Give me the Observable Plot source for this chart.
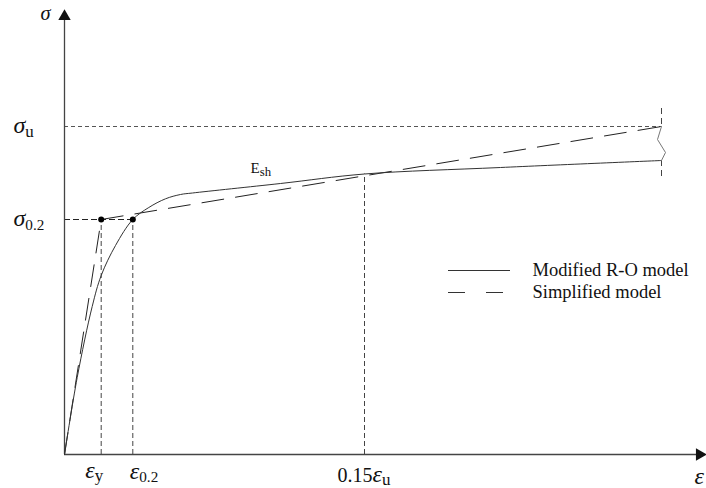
<!DOCTYPE html>
<html><head><meta charset="utf-8">
<script src="https://cdn.jsdelivr.net/npm/d3@7"></script>
<script src="https://cdn.jsdelivr.net/npm/@observablehq/plot@0.6"></script>
<style>body{margin:0;background:#fff}</style>
</head><body><div id="chart"></div>
<script>
// Modified Ramberg-Osgood curve (strain in schematic units, stress in schematic units)
const roStrain = [0, 0.127, 0.277, 0.367, 0.51, 0.683, 0.843, 1.01, 1.16, 1.28, 2.16, 3.0, 4.36, 5.97];
const roStress = [0, 77, 148, 179, 209, 235, 247, 255.7, 260, 261.5, 271, 280.5, 287, 294];
// Simplified (bilinear) model
const simpStrain = [0, 0.367, 5.97];
const simpStress = [0, 235, 328];
// Key values
const epsY = 0.367, eps02 = 0.683, eps15u = 3.0, epsEnd = 5.97;
const sig02 = 235, sigU = 328, sig15u = 280.5;
// Break symbol at the right end
const breakStrain = [5.97, 5.93, 6.01, 5.97];
const breakStress = [328, 315, 302, 294];
// Axis extents
const axisXMax = 6.42, axisYMax = 445;
// Tick labels ("|" separates the subscript)
const xTickLabels = ["ε|y", "ε|0.2", "0.15ε|u"];
const xTickValues = [epsY, eps02, eps15u];
const yTickLabels = ["σ|u", "σ|0.2"];
const yTickValues = [sigU, sig02];
const legendLabels = ["Modified R-O model", "Simplified model"];
const annotation = {text: "E|sh", x: 1.86, y: 282};

const ro = roStrain.map((x, i) => ({x, y: roStress[i]}));
const simp = simpStrain.map((x, i) => ({x, y: simpStress[i]}));
const brk = breakStrain.map((x, i) => ({x, y: breakStress[i]}));
const serif = "Liberation Serif, Times New Roman, serif";
const thin = {stroke: "#555", strokeWidth: 1, strokeDasharray: "4,3"};

const plot = Plot.plot({
  width: 706, height: 488,
  marginLeft: 64, marginRight: 0, marginTop: 9, marginBottom: 34,
  x: {domain: [0, axisXMax], axis: null},
  y: {domain: [0, axisYMax], axis: null},
  style: {fontFamily: serif, background: "#fff"},
  marks: [
    // reference lines
    Plot.ruleY([sigU], {x1: 0, x2: epsEnd, ...thin}),
    Plot.ruleY([sig02], {x1: 0, x2: eps02, stroke: "#222", strokeWidth: 1, strokeDasharray: "6,3"}),
    Plot.ruleX([{x: epsY, y: sig02}, {x: eps02, y: sig02}, {x: eps15u, y: sig15u}],
      {x: "x", y1: 0, y2: "y", stroke: "#444", strokeWidth: 1, strokeDasharray: "5,3"}),
    Plot.ruleX([{y1: 346, y2: sigU}, {y1: 294, y2: 274}],
      {x: epsEnd, y1: "y1", y2: "y2", stroke: "#444", strokeWidth: 1, strokeDasharray: "6,4"}),
    // axes
    Plot.ruleY([0], {x1: 0, x2: axisXMax - 0.08, stroke: "#444", strokeWidth: 1.3}),
    Plot.ruleX([0], {y1: 0, y2: axisYMax - 8, stroke: "#444", strokeWidth: 1.3}),
    Plot.dot([{x: 0, y: axisYMax}], {x: "x", y: "y", symbol: "triangle", r: 4.6, fill: "#111", stroke: null, dy: 7}),
    Plot.dot([{x: axisXMax, y: 0}], {x: "x", y: "y", symbol: "triangle", r: 4.6, fill: "#111", stroke: null, rotate: 90, dx: -7}),
    // curves
    Plot.line(simp, {x: "x", y: "y", stroke: "#222", strokeWidth: 1, strokeDasharray: "22,12"}),
    Plot.line(ro, {x: "x", y: "y", stroke: "#333", strokeWidth: 1, curve: "catmull-rom"}),
    Plot.line(brk, {x: "x", y: "y", stroke: "#777", strokeWidth: 1}),
    Plot.dot([{x: epsY, y: sig02}, {x: eps02, y: sig02}], {x: "x", y: "y", r: 3, fill: "#000", stroke: null}),
    // labels
    Plot.text(yTickValues, {x: 0, y: d => d, text: (d, i) => yTickLabels[i], textAnchor: "start", lineAnchor: "bottom", dx: -51, dy: 6, fontSize: 20, fill: "#111"}),
    Plot.text([{x: 0, y: axisYMax}], {x: "x", y: "y", text: () => "σ", textAnchor: "start", lineAnchor: "bottom", dx: -24, dy: 10, fontSize: 17, fill: "#111"}),
    Plot.text(xTickValues, {x: d => d, y: 0, text: (d, i) => xTickLabels[i], textAnchor: "start", lineAnchor: "bottom", fontSize: 20, fill: "#111"}),
    Plot.text([{x: axisXMax, y: 0}], {x: "x", y: "y", text: () => "ε", textAnchor: "start", lineAnchor: "bottom", dx: -12, dy: 29, fontSize: 20, fill: "#111"}),
    Plot.text([annotation], {x: "x", y: "y", text: "text", textAnchor: "start", lineAnchor: "bottom", fontSize: 15, fill: "#111"}),
    // legend
    Plot.ruleY([184], {x1: 3.84, x2: 4.46, stroke: "#333", strokeWidth: 1}),
    Plot.ruleY([162], {x1: 3.84, x2: 4.46, stroke: "#333", strokeWidth: 1, strokeDasharray: "17,21"}),
    Plot.text([184, 162], {x: 4.68, y: d => d, text: (d, i) => legendLabels[i], textAnchor: "start", fontSize: 18.5, fill: "#111"})
  ]
});

// x tick label offsets (per label)
const xdx = [-16, -3, -27], xdy = [23, 24, 27];
const svg = d3.select(plot);
svg.selectAll("text").each(function () {
  const t = this.textContent;
  const i = xTickLabels.indexOf(t);
  if (i >= 0) {
    const tr = this.getAttribute("transform") || "";
    this.setAttribute("transform", tr + ` translate(${xdx[i]},${xdy[i]})`);
  }
});
// rich text: italic Greek, upright subscripts
svg.selectAll("text").each(function () {
  const t = this.textContent;
  if (!/[σε|]/.test(t)) return;
  const [main, sub] = t.split("|");
  const el = d3.select(this);
  el.text(null).attr("font-style", null);
  for (const ch of main) {
    const greek = /[σε]/.test(ch);
    const ts = el.append("tspan").attr("font-style", greek ? "italic" : "normal").text(ch);
    if (greek) ts.attr("font-size", "1.2em");
  }
  if (sub) {
    const small = /\d/.test(sub) ? "0.76em" : "0.85em";
    el.append("tspan").attr("dy", /[σ]/.test(main) ? 4 : 3).attr("font-size", small).attr("font-style", "normal").text(sub);
  }
});
document.getElementById("chart").appendChild(plot);
</script>
</body></html>
